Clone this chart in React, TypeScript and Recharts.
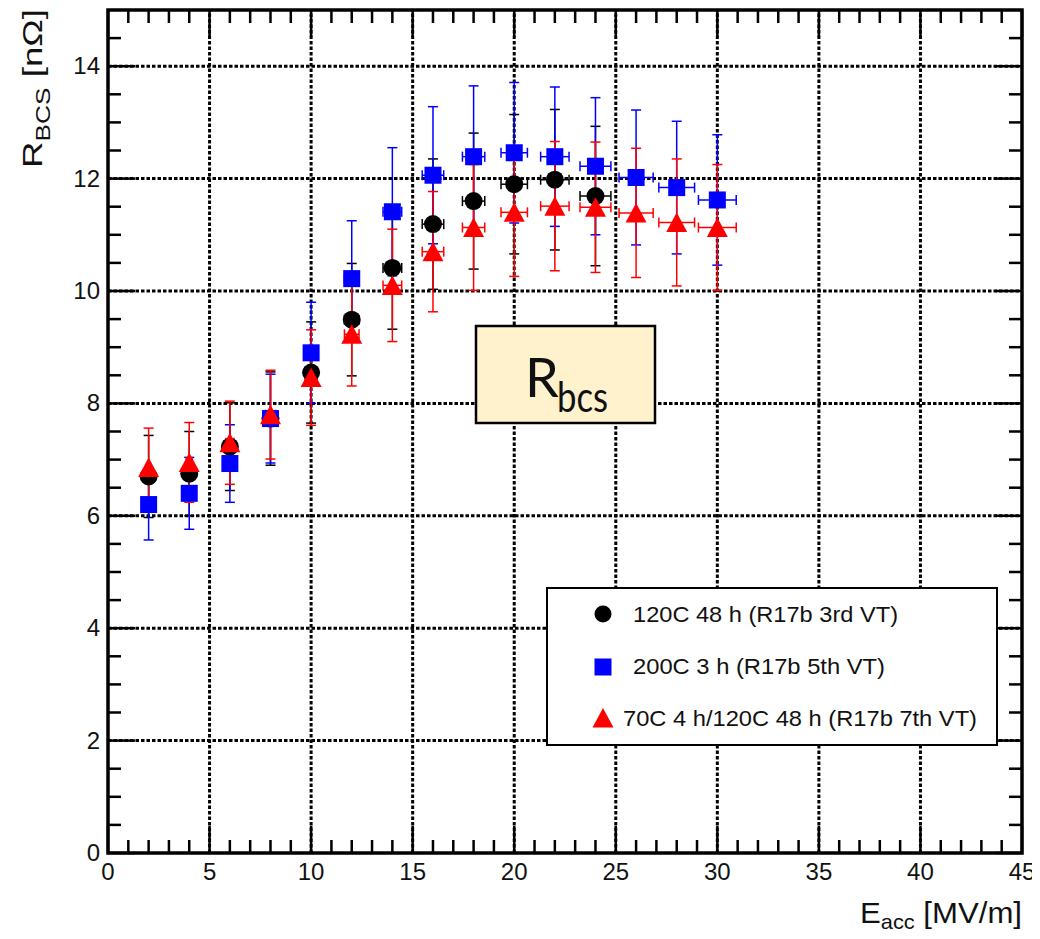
import React from "react";
import { ScatterChart, Scatter, XAxis, YAxis, ErrorBar, ReferenceLine } from "recharts";

// E_acc points (MV/m) and their horizontal uncertainty
const E_ALL = [2, 4, 6, 8, 10, 12, 14, 16, 18, 20, 22, 24, 26, 28, 30];
const E_ERR = [0.1, 0.15, 0.2, 0.25, 0.3, 0.36, 0.46, 0.53, 0.55, 0.65, 0.7, 0.76, 0.84, 0.88, 0.93];

// 120C 48 h (R17b 3rd VT)
const E_BLACK = [2, 4, 6, 8, 10, 12, 14, 16, 18, 20, 22, 24];
const R_BLACK = [6.7, 6.75, 7.23, 7.73, 8.55, 9.49, 10.41, 11.19, 11.6, 11.9, 11.98, 11.69];
const DR_BLACK = [0.73, 0.75, 0.78, 0.83, 0.9, 1.0, 1.09, 1.16, 1.21, 1.24, 1.25, 1.24];

// 200C 3 h (R17b 5th VT)
const E_BLUE = E_ALL;
const R_BLUE = [6.2, 6.4, 6.93, 7.73, 8.9, 10.22, 11.41, 12.06, 12.39, 12.46, 12.39, 12.22, 12.02, 11.84, 11.62];
const DR_BLUE = [0.63, 0.64, 0.69, 0.79, 0.9, 1.03, 1.14, 1.22, 1.26, 1.25, 1.24, 1.22, 1.2, 1.18, 1.16];

// 70C 4 h/120C 48 h (R17b 7th VT)
const E_RED = E_ALL;
const R_RED = [6.86, 6.95, 7.3, 7.8, 8.46, 9.23, 10.1, 10.7, 11.13, 11.4, 11.51, 11.49, 11.39, 11.22, 11.13];
const DR_RED = [0.7, 0.71, 0.74, 0.79, 0.85, 0.92, 1.0, 1.07, 1.12, 1.14, 1.15, 1.16, 1.15, 1.13, 1.12];

const X_LABELS = [0, 5, 10, 15, 20, 25, 30, 35, 40, 45];
const Y_LABELS = [0, 2, 4, 6, 8, 10, 12, 14];
const X_TICKS = Array.from({ length: 46 }, (_, i) => i);
const Y_TICKS = Array.from({ length: 30 }, (_, i) => i * 0.5);

const LEGEND = [
  { label: "120C 48 h (R17b 3rd VT)", len: 265, tx: 625 },
  { label: "200C 3 h (R17b 5th VT)", len: 252, tx: 625 },
  { label: "70C 4 h/120C 48 h (R17b 7th VT)", len: 354, tx: 615 },
];

// layout (chart coordinates, page offset 8px by body margin)
const W = 1032;
const H = 931;
const PLOT_L = 100;
const PLOT_R = 1014;
const PLOT_T = 2;
const PLOT_B = 845;
const MAJOR = 27;
const MINOR = 13;
const FONT = "'Liberation Sans', Arial, sans-serif";

const rows = (e: number[], r: number[], dr: number[]) =>
  e.map((v, i) => ({ e: v, r: r[i], dr: dr[i], de: E_ERR[E_ALL.indexOf(v)] }));

const blackData = rows(E_BLACK, R_BLACK, DR_BLACK);
const blueData = rows(E_BLUE, R_BLUE, DR_BLUE);
const redData = rows(E_RED, R_RED, DR_RED);

const Dot = (p: any) => <circle cx={p.cx} cy={p.cy} r={9} fill="#000" />;
const Square = (p: any) => (
  <rect x={p.cx - 8.5} y={p.cy - 8.5} width={17} height={17} fill="#0000ff" />
);
const Tri = (p: any) => (
  <polygon
    points={`${p.cx},${p.cy - 10} ${p.cx - 10.5},${p.cy + 9.5} ${p.cx + 10.5},${p.cy + 9.5}`}
    fill="#ff0000"
  />
);

function XTick(props: any) {
  const { x, y, payload } = props;
  const major = X_LABELS.includes(payload.value);
  const len = major ? MAJOR : MINOR;
  return (
    <g>
      <line x1={x} y1={y} x2={x} y2={y - len} stroke="#000" strokeWidth={2.5} />
      <line x1={x} y1={PLOT_T} x2={x} y2={PLOT_T + len} stroke="#000" strokeWidth={2.5} />
      {major ? (
        <text x={x} y={y + 27} textAnchor="middle" fontSize={24} fontFamily={FONT} fill="#111">
          {payload.value}
        </text>
      ) : null}
    </g>
  );
}

function YTick(props: any) {
  const { x, y, payload } = props;
  const major = Y_LABELS.includes(payload.value);
  const len = major ? MAJOR : MINOR;
  return (
    <g>
      <line x1={x} y1={y} x2={x + len} y2={y} stroke="#000" strokeWidth={2.5} />
      <line x1={PLOT_R} y1={y} x2={PLOT_R - len} y2={y} stroke="#000" strokeWidth={2.5} />
      {major ? (
        <text
          x={x - 8}
          y={y + 8}
          textAnchor="end"
          fontSize={24}
          fontFamily={FONT}
          fill="#111"
        >
          {payload.value}
        </text>
      ) : null}
    </g>
  );
}

const gridX = X_LABELS.slice(1, -1);
const gridY = Y_LABELS.slice(1);

export default function App() {
  return (
    <div style={{ position: "relative", width: W, height: H }}>
      <ScatterChart
        width={W}
        height={H}
        margin={{ top: PLOT_T, right: W - PLOT_R, bottom: 0, left: 0 }}
      >
        <XAxis
          type="number"
          dataKey="e"
          domain={[0, 45]}
          ticks={X_TICKS}
          interval={0}
          allowDataOverflow
          axisLine={false}
          tickLine={false}
          tickSize={0}
          tickMargin={0}
          height={H - PLOT_B}
          tick={XTick}
        />
        <YAxis
          type="number"
          dataKey="r"
          domain={[0, 15]}
          ticks={Y_TICKS}
          interval={0}
          allowDataOverflow
          axisLine={false}
          tickLine={false}
          tickSize={0}
          tickMargin={0}
          width={PLOT_L}
          tick={YTick}
        />
        {gridX.map((v) => (
          <ReferenceLine key={`gx${v}`} x={v} stroke="#000" strokeWidth={3} strokeDasharray="3.5 2" />
        ))}
        {gridY.map((v) => (
          <ReferenceLine key={`gy${v}`} y={v} stroke="#000" strokeWidth={3} strokeDasharray="3.5 2" />
        ))}
        <Scatter data={blackData} dataKey="r" shape={Dot} isAnimationActive={false}>
          <ErrorBar dataKey="dr" direction="y" stroke="#000" strokeWidth={1.5} width={5} />
          <ErrorBar dataKey="de" direction="x" stroke="#000" strokeWidth={1.5} width={5} />
        </Scatter>
        <Scatter data={blueData} dataKey="r" shape={Square} isAnimationActive={false}>
          <ErrorBar dataKey="dr" direction="y" stroke="#0000ff" strokeWidth={1.5} width={5} />
          <ErrorBar dataKey="de" direction="x" stroke="#0000ff" strokeWidth={1.5} width={5} />
        </Scatter>
        <Scatter data={redData} dataKey="r" shape={Tri} isAnimationActive={false}>
          <ErrorBar dataKey="dr" direction="y" stroke="#ff0000" strokeWidth={1.5} width={5} />
          <ErrorBar dataKey="de" direction="x" stroke="#ff0000" strokeWidth={1.5} width={5} />
        </Scatter>
      </ScatterChart>
      <svg
        width={W}
        height={H}
        style={{ position: "absolute", left: 0, top: 0, pointerEvents: "none", overflow: "visible" }}
      >
        <rect
          x={PLOT_L}
          y={PLOT_T}
          width={PLOT_R - PLOT_L}
          height={PLOT_B - PLOT_T}
          fill="none"
          stroke="#000"
          strokeWidth={3.5}
        />
        {/* axis titles */}
        <text
          transform="translate(34, 1) rotate(-90)"
          textAnchor="end"
          fontFamily={FONT}
          fontSize={28}
          fill="#111"
          textLength={159}
          lengthAdjust="spacingAndGlyphs"
        >
          R
          <tspan fontSize={20} dy={8}>BCS</tspan>
          <tspan dy={-8}> [nΩ]</tspan>
        </text>
        <text
          x={852}
          y={915}
          fontFamily={FONT}
          fontSize={30}
          fill="#111"
          textLength={162}
          lengthAdjust="spacingAndGlyphs"
        >
          E
          <tspan fontSize={21} dy={6}>acc</tspan>
          <tspan dy={-6}> [MV/m]</tspan>
        </text>
        {/* R_bcs label box */}
        <rect x={468} y={318} width={179} height={97} fill="#fff2cc" stroke="#000" strokeWidth={2.5} />
        <text x={517} y={389} fontFamily="Lato, 'Open Sans', sans-serif" fontSize={54} fill="#111">
          R
        </text>
        <text
          x={549}
          y={404}
          fontFamily="Lato, 'Open Sans', sans-serif"
          fontSize={43}
          fill="#111"
          textLength={51}
          lengthAdjust="spacingAndGlyphs"
        >
          bcs
        </text>
        {/* legend */}
        <rect x={539} y={580} width={450} height={157} fill="#fff" stroke="#000" strokeWidth={2} />
        <circle cx={595} cy={606} r={8.5} fill="#000" />
        <rect x={586.5} y={650.5} width={17} height={17} fill="#0000ff" />
        <polygon points="595,700 584.5,719.5 605.5,719.5" fill="#ff0000" />
        {LEGEND.map((d, i) => (
          <text
            key={d.label}
            x={d.tx}
            y={614 + i * 52}
            fontFamily={FONT}
            fontSize={22}
            fill="#111"
            textLength={d.len}
            lengthAdjust="spacingAndGlyphs"
          >
            {d.label}
          </text>
        ))}
      </svg>
    </div>
  );
}
